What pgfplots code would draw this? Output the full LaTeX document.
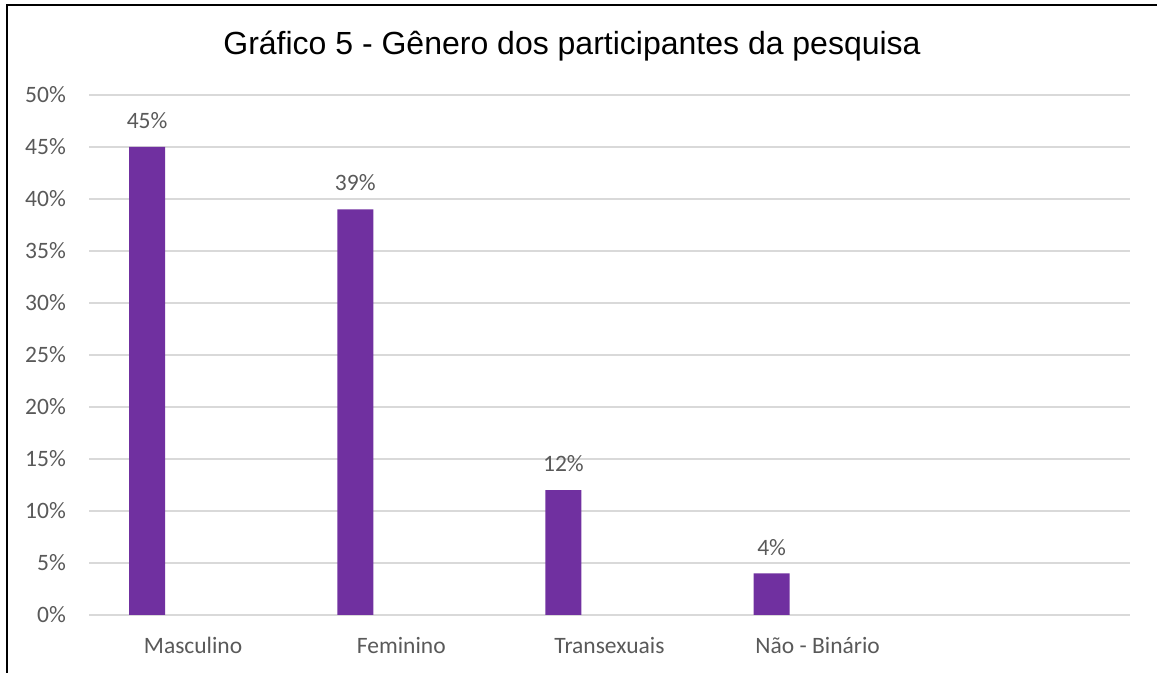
\documentclass[border=0pt]{standalone}
\usepackage{fontspec}
\setmainfont{Carlito}
\newfontfamily\titlefont{Liberation Sans}
\usepackage{pgfplots}
\pgfplotsset{compat=1.18}
\definecolor{barpurple}{HTML}{7030A0}
\definecolor{txtgray}{HTML}{595959}
\definecolor{gridgray}{HTML}{D9D9D9}
\begin{document}
\begin{tikzpicture}
\path[use as bounding box] (0bp,0bp) rectangle (1157bp,673bp);
\draw[line width=1.5bp] (7bp,0bp) -- (7bp,668bp) -- (1157bp,668bp);
\node[anchor=base, inner sep=0pt, font=\titlefont\fontsize{32bp}{38bp}\selectfont] at (572bp,618bp) {Gráfico 5 - Gênero dos participantes da pesquisa};
\begin{axis}[
  at={(89bp,58bp)}, anchor=south west, scale only axis,
  width=1041bp, height=520bp,
  ybar, bar width=36bp, bar shift=-46bp,
  xmin=-0.5, xmax=4.5, ymin=0, ymax=50,
  xtick={0,1,2,3},
  xticklabels={Masculino, Feminino, Transexuais, Não - Binário},
  ytick={0,5,...,50},
  yticklabel={\pgfmathprintnumber{\tick}\%},
  /pgf/number format/assume math mode=true,
  axis line style={draw=none},
  major tick length=0pt,
  ymajorgrids, grid style={gridgray, line width=1.3bp},
  tick label style={font=\fontsize{23.5bp}{28bp}\selectfont, text=txtgray},
  yticklabel style={anchor=east, inner sep=0pt, xshift=-23bp},
  xticklabel style={anchor=north, inner sep=0pt, yshift=-22bp},
  nodes near coords={\pgfmathprintnumber{\pgfplotspointmeta}\%},
  nodes near coords style={font=\fontsize{23.5bp}{28bp}\selectfont, text=txtgray, anchor=south, inner sep=0pt, yshift=18bp},
]
\addplot[fill=barpurple, draw=none] coordinates {(0,45) (1,39) (2,12) (3,4)};
\end{axis}
\end{tikzpicture}
\end{document}
